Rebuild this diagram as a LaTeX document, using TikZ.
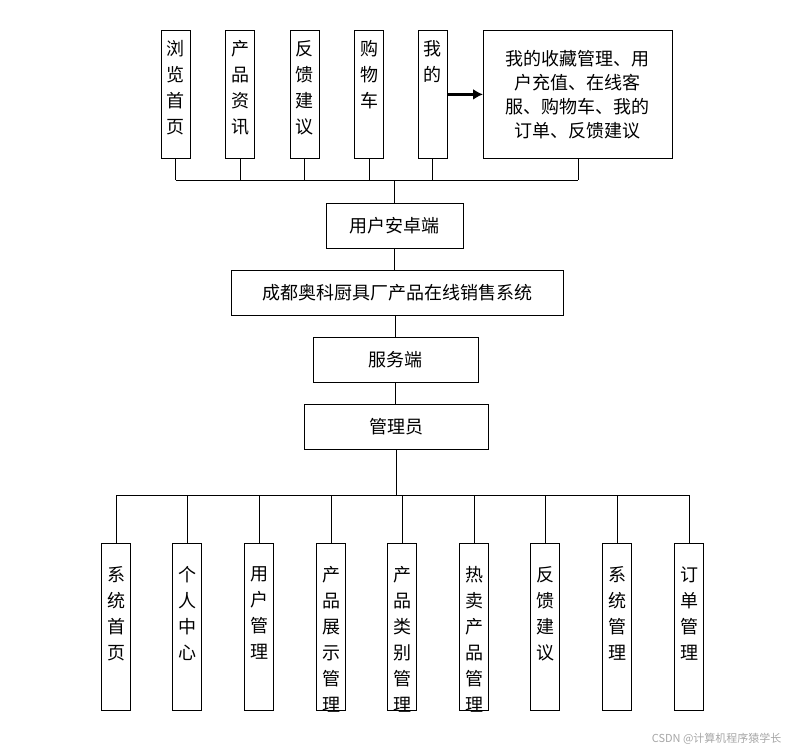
\documentclass[tikz,border=0pt]{standalone}
\usepackage{fontspec}
\setmainfont{Noto Sans CJK SC}
\usetikzlibrary{arrows.meta}
\begin{document}
\begin{tikzpicture}[x=1pt,y=-1pt,
  bx/.style={draw,line width=0.8pt,fill=white,inner sep=0pt,font=\fontsize{18}{25}\selectfont,align=center},
  ln/.style={line width=0.7pt}]
\useasboundingbox (0,0) rectangle (790,752);
\foreach \n/\x/\t in {t1/175.5/浏\\览\\首\\页, t2/240/产\\品\\资\\讯, t3/304.5/反\\馈\\建\\议, t4/369/购\\物\\车, t5/432.5/我\\的}{
  \node[bx,minimum width=29pt,minimum height=128pt,anchor=north] (\n) at (\x,30) {};
  \node[font=\fontsize{18}{26}\selectfont,align=center,anchor=north] at (\x,37) {\t};
}
\node[bx,minimum width=189pt,minimum height=128pt,anchor=north west,font=\fontsize{18}{24}\selectfont] (big) at (483,30) {我的收藏管理、用\\户充值、在线客\\服、购物车、我的\\订单、反馈建议};
\draw[-{Latex[length=10pt,width=11pt]},line width=3pt] (t5.east) -- (big.west);
\coordinate (b1) at (175.5,180); \coordinate (b2) at (577.5,180);
\draw[ln] (b1) -- (b2);
\foreach \n in {t1,t2,t3,t4,t5}{\draw[ln] (\n.south) -- (\n.south |- b1);}
\draw[ln] (big.south) -- (big.south |- b1);
\node[bx,minimum width=137pt,minimum height=45pt] (an) at (394.5,225.5) {用户安卓端};
\node[bx,minimum width=332pt,minimum height=45pt] (sys) at (397,292.5) {成都奥科厨具厂产品在线销售系统};
\node[bx,minimum width=165pt,minimum height=45pt] (srv) at (395.5,359.5) {服务端};
\node[bx,minimum width=184pt,minimum height=45pt] (adm) at (396,426.5) {管理员};
\draw[ln] (an.north |- b1) -- (an.north);
\draw[ln] (an.south) -- (an.south |- sys.north);
\draw[ln] (sys.south -| srv.north) -- (srv.north);
\draw[ln] (srv.south) -- (srv.south |- adm.north);
\coordinate (c1) at (116,495); \coordinate (c2) at (688.5,495);
\draw[ln] (c1) -- (c2);
\draw[ln] (adm.south) -- (adm.south |- c1);
\foreach \n/\x/\t in {s1/116/系\\统\\首\\页, s2/187/个\\人\\中\\心, s3/259/用\\户\\管\\理, s4/331/产\\品\\展\\示\\管\\理, s5/402/产\\品\\类\\别\\管\\理, s6/474/热\\卖\\产\\品\\管\\理, s7/545/反\\馈\\建\\议, s8/617/系\\统\\管\\理, s9/689/订\\单\\管\\理}{
  \node[bx,minimum width=29pt,minimum height=167pt,anchor=north] (\n) at (\x,543) {};
  \node[font=\fontsize{18}{26}\selectfont,align=center,anchor=north] at (\x,563) {\t};
  \draw[ln] (\n.north |- c1) -- (\n.north);
}
\node[text=gray!70,font=\fontsize{11}{13}\selectfont,anchor=east] (wm) at (785,739) {CSDN @计算机程序猿学长};
\end{tikzpicture}
\end{document}
